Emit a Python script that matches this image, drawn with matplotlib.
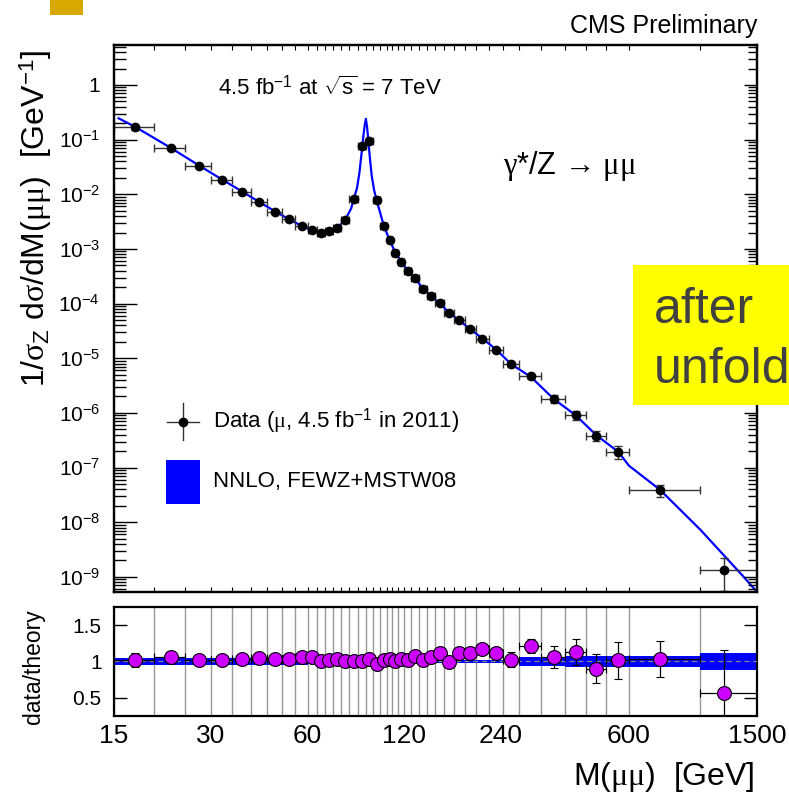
import numpy as np
import matplotlib
matplotlib.use("Agg")
import matplotlib.pyplot as plt
from matplotlib.patches import Rectangle
from matplotlib.ticker import FixedLocator, NullFormatter, NullLocator, LogLocator, FuncFormatter

plt.rcParams['font.family'] = ['Liberation Sans', 'DejaVu Sans']
plt.rcParams['mathtext.fontset'] = 'custom'
plt.rcParams['mathtext.rm'] = 'Liberation Sans'
plt.rcParams['mathtext.it'] = 'Liberation Serif'
plt.rcParams['mathtext.bf'] = 'Liberation Sans:bold'

# binning (GeV)
bin_edges = [15, 20, 25, 30, 35, 40, 45, 50, 55, 60, 64, 68, 72, 76, 81, 86, 91, 96,
             101, 106, 110, 115, 120, 126, 133, 141, 150, 160, 171, 185, 200, 220,
             243, 273, 320, 380, 440, 510, 600, 1000, 1500]

# measured points
mass = [17.4, 22.5, 27.5, 32.5, 37.5, 42.5, 47.5, 52.5, 57.5, 62, 66, 70, 74, 78.5,
        83.5, 88.5, 93.5, 98.5, 103.5, 108, 112.5, 117.5, 123, 129.5, 137, 145.5,
        155, 165.5, 178, 192.5, 210, 231.5, 258, 296.5, 350, 410, 475, 555, 750, 1185]
xsec = [0.168, 0.0705, 0.0335, 0.0186, 0.0112, 7.16e-3, 4.83e-3, 3.50e-3, 2.68e-3,
        2.23e-3, 1.97e-3, 2.12e-3, 2.41e-3, 3.45e-3, 8.24e-3, 0.0777, 0.0959, 7.74e-3,
        2.68e-3, 1.44e-3, 8.55e-4, 5.74e-4, 4.01e-4, 2.90e-4, 1.89e-4, 1.39e-4,
        1.02e-4, 6.65e-5, 4.99e-5, 3.37e-5, 2.30e-5, 1.43e-5, 7.7e-6, 4.65e-6,
        1.82e-6, 9.15e-7, 3.83e-7, 1.95e-7, 3.83e-8, 1.36e-9]
rel_err = [0.10, 0.03, 0.02, 0.02, 0.02, 0.02, 0.02, 0.02, 0.02, 0.02, 0.02, 0.02,
           0.02, 0.02, 0.02, 0.02, 0.02, 0.02, 0.02, 0.02, 0.02, 0.02, 0.02, 0.02,
           0.02, 0.03, 0.03, 0.03, 0.03, 0.04, 0.05, 0.05, 0.10, 0.10, 0.15, 0.18,
           0.20, 0.26, 0.25, 0.60]

# data / theory
ratio = [1.018, 1.064, 1.014, 1.023, 1.04, 1.045, 1.037, 1.037, 1.055, 1.055, 1.005,
         1.027, 1.03, 1.01, 1.0, 1.005, 1.04, 0.96, 1.014, 1.03, 1.0, 1.03, 1.014,
         1.073, 1.018, 1.064, 1.123, 0.99, 1.113, 1.113, 1.173, 1.123, 1.027, 1.214,
         1.064, 1.127, 0.90, 1.014, 1.03, 0.56]
band_halfwidth = [0.05, 0.045, 0.045, 0.045, 0.045, 0.045, 0.045, 0.045, 0.045, 0.035,
                  0.035, 0.035, 0.035, 0.03, 0.03, 0.03, 0.03, 0.03, 0.03, 0.03, 0.03,
                  0.03, 0.025, 0.025, 0.025, 0.025, 0.025, 0.025, 0.025, 0.025, 0.025,
                  0.025, 0.025, 0.06, 0.06, 0.07, 0.07, 0.07, 0.075, 0.115]

# NNLO curve
theory_mass = [15.5, 17.5, 22.5, 27.5, 32.5, 37.5, 42.5, 47.5, 52.5, 57.5, 62, 66, 70,
               74, 78.5, 82, 83.5, 85.5, 87.0, 88.3, 89.4, 90.3, 91.1, 91.9, 92.8, 93.8,
               95.0, 96.6, 98.5, 103.5, 108, 112.5, 117.5, 123, 129.5, 137, 145.5, 155,
               165.5, 178, 192.5, 210, 231.5, 258, 296.5, 350, 410, 475, 555, 600, 750,
               1000, 1360, 1500]
theory_xsec = [0.246, 0.17, 0.071, 0.034, 0.0187, 0.0113, 7.2e-3, 4.9e-3, 3.5e-3,
               2.65e-3, 2.2e-3, 2.0e-3, 2.05e-3, 2.4e-3, 3.4e-3, 5.5e-3, 8.2e-3, 0.013,
               0.025, 0.055, 0.11, 0.18, 0.24, 0.17, 0.09, 0.045, 0.022, 0.012, 7.6e-3,
               2.7e-3, 1.45e-3, 8.6e-4, 5.8e-4, 4.0e-4, 2.9e-4, 1.9e-4, 1.38e-4, 1.0e-4,
               6.8e-5, 4.9e-5, 3.4e-5, 2.3e-5, 1.45e-5, 7.8e-6, 4.6e-6, 1.8e-6, 9.0e-7,
               3.9e-7, 1.95e-7, 1.08e-7, 3.9e-8, 7.3e-9, 1.02e-9, 5.3e-10]

x_labels = [15, 30, 60, 120, 240, 600, 1500]
y_decades = [1e-9, 1e-8, 1e-7, 1e-6, 1e-5, 1e-4, 1e-3, 1e-2, 1e-1, 1]

edges = np.array(bin_edges, dtype=float)
m = np.array(mass)
y = np.array(xsec)
xerr = [m - edges[:-1], edges[1:] - m]
yerr_hi = y * np.array(rel_err)
yerr_lo = np.minimum(yerr_hi, y * 0.999)

fig = plt.figure(figsize=(7.89, 7.93), dpi=100)
ax = fig.add_axes([0.1445, 0.2535, 0.8149, 0.6898])
rax = fig.add_axes([0.1445, 0.0971, 0.8149, 0.1375])

# ---- main panel
ax.plot(theory_mass, theory_xsec, color='#0000FF', lw=1.6, zorder=2)
ax.errorbar(m, y, xerr=xerr, yerr=[yerr_lo, yerr_hi], fmt='o', color='black', ms=6,
            ecolor='#333333', elinewidth=1, capsize=2.8, zorder=3)
ax.set_xscale('log')
ax.set_yscale('log')
ax.set_xlim(15, 1500)
ax.set_ylim(5.3e-10, 5.4)

ax.xaxis.set_major_locator(FixedLocator(bin_edges))
ax.xaxis.set_major_formatter(NullFormatter())
ax.xaxis.set_minor_locator(NullLocator())
ax.tick_params(axis='x', which='major', direction='in', length=3.5, width=0.8,
               top=True, bottom=True, labelbottom=False)

ax.yaxis.set_major_locator(FixedLocator(y_decades))
ax.yaxis.set_minor_locator(LogLocator(base=10, subs=np.arange(2, 10), numticks=20))
ax.yaxis.set_minor_formatter(NullFormatter())
ax.yaxis.set_major_formatter(FuncFormatter(
    lambda v, p: '1' if abs(v - 1) < 1e-9 else r'$10^{%d}$' % round(np.log10(v))))
ax.tick_params(axis='y', which='major', direction='in', length=16.5, width=1,
               labelsize=15, pad=10)
ax.tick_params(axis='y', which='minor', direction='in', length=8.5, width=1)

axr = ax.twinx()
axr.set_yscale('log')
axr.set_ylim(ax.get_ylim())
axr.yaxis.set_major_locator(FixedLocator(y_decades))
axr.yaxis.set_minor_locator(LogLocator(base=10, subs=np.arange(2, 10), numticks=20))
axr.yaxis.set_major_formatter(NullFormatter())
axr.yaxis.set_minor_formatter(NullFormatter())
axr.tick_params(axis='y', which='major', direction='in', length=9.5, width=1)
axr.tick_params(axis='y', which='minor', direction='in', length=6.5, width=1)

for a in (ax, axr, rax):
    for s in a.spines.values():
        s.set_linewidth(1.6)

# legend drawn by hand
ax.plot([0.0824, 0.1327], [0.3113, 0.3113], color='#333333', lw=1, transform=ax.transAxes)
ax.plot([0.1073, 0.1073], [0.2779, 0.3455], color='#333333', lw=1, transform=ax.transAxes)
ax.plot([0.1073], [0.3113], 'o', color='black', ms=6, transform=ax.transAxes)
ax.text(0.154, 0.3113, r'Data ($\mu$, 4.5 fb$^{-1}$ in 2011)', transform=ax.transAxes,
        fontsize=16, va='center', ha='left')
ax.add_patch(Rectangle((0.0809, 0.1603), 0.0528, 0.081, transform=ax.transAxes,
                       facecolor='#0000FF', edgecolor='none'))
ax.text(0.154, 0.2016, 'NNLO, FEWZ+MSTW08', transform=ax.transAxes,
        fontsize=16, va='center', ha='left')

ax.text(0.1617, 0.9214, r'4.5 fb$^{-1}$ at $\sqrt{\rm s}$ = 7 TeV', transform=ax.transAxes,
        fontsize=16, va='center', ha='left')
ax.text(0.605, 0.7788, '$\\gamma$*/Z \u2192 $\\mu\\mu$', transform=ax.transAxes,
        fontsize=22, va='center', ha='left')

# ---- ratio panel
rax.vlines(bin_edges, 0, 1, transform=rax.get_xaxis_transform(), color='#999999',
           lw=1, zorder=1)
hw = np.array(band_halfwidth + [band_halfwidth[-1]])
rax.fill_between(edges, 1 - hw, 1 + hw, step='post', color='#0000FF', lw=0, zorder=2)
rax.axhline(1, color='#888888', lw=0.9, ls=(0, (4, 3)), zorder=3)
r = np.array(ratio)
rax.errorbar(m, r, xerr=xerr, yerr=np.array(rel_err), fmt='o', mfc='#CC00FF', mec='black',
             mew=0.8, ms=10, ecolor='black', elinewidth=0.9, capsize=2.8, zorder=4)
rax.set_xscale('log')
rax.set_xlim(15, 1500)
rax.set_ylim(0.25, 1.75)
rax.xaxis.set_major_locator(FixedLocator(x_labels))
rax.xaxis.set_major_formatter(FuncFormatter(lambda v, p: '%d' % round(v)))
rax.xaxis.set_minor_locator(NullLocator())
rax.tick_params(axis='x', which='major', length=0, labelsize=19, pad=6)
rax.set_yticks([0.5, 1, 1.5])
rax.set_yticklabels(['0.5', '1', '1.5'])
rax.tick_params(axis='y', direction='in', length=9.5, width=1, left=True, right=True,
                labelsize=15, pad=9)

# ---- labels and page decorations
fig.text(36 / 789, 1 - 218 / 793, r'1/$\sigma_{\rm Z}$ d$\sigma$/dM($\mu\mu$)  [GeV$^{-1}$]',
         rotation=90, fontsize=23, ha='center', va='center')
fig.text(34 / 789, 1 - 667 / 793, 'data/theory', rotation=90, fontsize=16.5,
         ha='center', va='center')
fig.text(755 / 789, 1 - 785 / 793, r'M($\mu\mu$)  [GeV]', fontsize=23, ha='right',
         va='baseline')
fig.text(757 / 789, 1 - 33.5 / 793, 'CMS Preliminary', fontsize=18, ha='right',
         va='baseline')

fig.patches.append(Rectangle((50 / 789, 1 - 15 / 793), 33 / 789, 15 / 793,
                             transform=fig.transFigure, facecolor='#D9A800',
                             edgecolor='none'))
fig.patches.append(Rectangle((632.7 / 789, 1 - 404.7 / 793), 160 / 789, 139.7 / 793,
                             transform=fig.transFigure, facecolor='#FFFF00',
                             edgecolor='none', zorder=5))
# the yellow note runs off the right edge of the page, as in the original screenshot
fig.text(654 / 789, 1 - 323 / 793, 'after', fontsize=36, color='#404040',
         va='baseline', ha='left', zorder=6)
fig.text(654 / 789, 1 - 383 / 793, 'unfolding', fontsize=36, color='#404040',
         va='baseline', ha='left', zorder=6)

fig.savefig('out.png', dpi=100)
